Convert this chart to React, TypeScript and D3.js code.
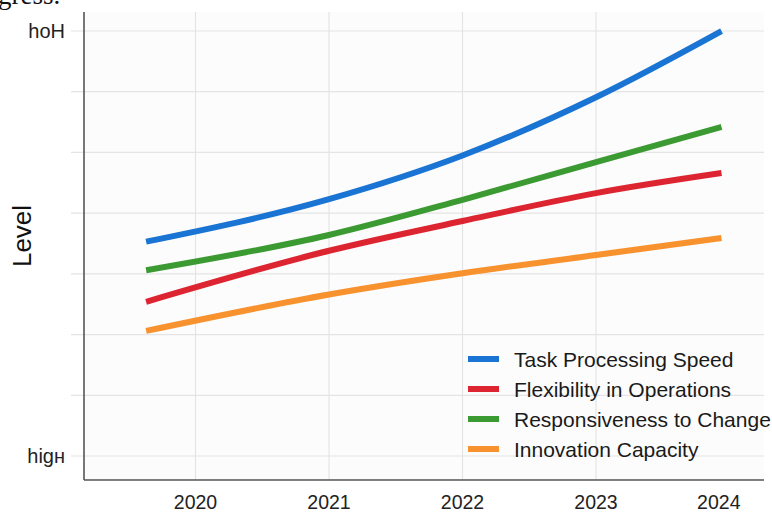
import React from "react";
import * as d3 from "d3";

// Series values per sampled year position (levels on a 0–7 scale)
const xPositions = [2019.63, 2021, 2022, 2023, 2023.94];
const taskProcessingSpeed = [3.53, 4.23, 4.95, 5.91, 7.0];
const flexibilityInOperations = [2.54, 3.38, 3.87, 4.33, 4.66];
const responsivenessToChange = [3.06, 3.64, 4.22, 4.84, 5.42];
const innovationCapacity = [2.06, 2.66, 3.01, 3.31, 3.59];

const seriesNames = [
  "Task Processing Speed",
  "Flexibility in Operations",
  "Responsiveness to Change",
  "Innovation Capacity",
];
const seriesColors = ["#1a74d3", "#dc2530", "#3c9a32", "#f7922e"];

const xGridYears = [2020, 2021, 2022, 2023];
const xTickYears = [2020, 2021, 2022, 2023, 2023.92];
const xTickLabels = ["2020", "2021", "2022", "2023", "2024"];
const yGridLevels = [0, 1, 2, 3, 4, 5, 6, 7];
const yTickLevels = [0, 7];
const yTickLabels = ["higн", "hoH"];

const W = 772;
const H = 513;
const FONT = "'Liberation Sans', Arial, Helvetica, sans-serif";

export default function App() {
  const x = d3.scaleLinear().domain([2020, 2023]).range([195.5, 596]);
  const y = d3.scaleLinear().domain([0, 7]).range([456, 31]);

  const axisLeft = 84;
  const axisBottom = 480;
  const plotTop = 12;
  const plotRight = 764;

  const line = d3
    .line<[number, number]>()
    .x((d) => x(d[0]))
    .y((d) => y(d[1]))
    .curve(d3.curveMonotoneX);

  const allSeries = [
    taskProcessingSpeed,
    flexibilityInOperations,
    responsivenessToChange,
    innovationCapacity,
  ];

  const legendX = 468;
  const legendY = 359;
  const legendStep = 30;

  return (
    <svg
      width={W}
      height={H}
      style={{ position: "absolute", left: 0, top: 0, background: "#ffffff" }}
    >
      <rect x={axisLeft} y={plotTop} width={plotRight - axisLeft} height={axisBottom - plotTop} fill="#fcfcfc" />

      {/* running text cut at the top edge */}
      <text x={-2} y={4} fontFamily="'Liberation Serif', 'Times New Roman', serif" fontSize={27} fill="#111">
        gress.
      </text>

      {/* grid */}
      {yGridLevels.map((v) => (
        <line key={"gy" + v} x1={71} x2={plotRight} y1={y(v)} y2={y(v)} stroke="#e4e4e4" strokeWidth={1.2} />
      ))}
      {xGridYears.map((v) => (
        <line key={"gx" + v} x1={x(v)} x2={x(v)} y1={plotTop} y2={axisBottom} stroke="#e4e4e4" strokeWidth={1.2} />
      ))}

      {/* axes */}
      <line x1={axisLeft} x2={axisLeft} y1={plotTop} y2={axisBottom} stroke="#555" strokeWidth={1.6} />
      <line x1={axisLeft} x2={plotRight} y1={axisBottom} y2={axisBottom} stroke="#555" strokeWidth={1.6} />

      {/* y tick labels */}
      {yTickLevels.map((v, i) => (
        <text
          key={"yt" + v}
          x={65}
          y={y(v)}
          dy="0.36em"
          textAnchor="end"
          fontFamily={FONT}
          fontSize={20}
          fill="#222"
        >
          {yTickLabels[i]}
        </text>
      ))}

      {/* x tick labels */}
      {xTickYears.map((v, i) => (
        <text
          key={"xt" + i}
          x={x(v)}
          y={509}
          textAnchor="middle"
          fontFamily={FONT}
          fontSize={19.5}
          fill="#222"
        >
          {xTickLabels[i]}
        </text>
      ))}

      {/* y axis title */}
      <text
        transform={`translate(31,236) rotate(-90)`}
        textAnchor="middle"
        fontFamily={FONT}
        fontSize={26}
        fill="#111"
      >
        Level
      </text>

      {/* series lines */}
      {allSeries.map((vals, si) => (
        <path
          key={"s" + si}
          d={line(vals.map((v, i) => [xPositions[i], v] as [number, number])) || ""}
          fill="none"
          stroke={seriesColors[si]}
          strokeWidth={6}
        />
      ))}

      {/* legend */}
      {seriesNames.map((name, i) => (
        <g key={"lg" + i}>
          <rect x={legendX} y={legendY + i * legendStep - 3} width={31} height={6} fill={seriesColors[i]} />
          <text
            x={514}
            y={legendY + i * legendStep}
            dy="0.36em"
            fontFamily={FONT}
            fontSize={21}
            fill="#1a1a1a"
          >
            {name}
          </text>
        </g>
      ))}
    </svg>
  );
}
